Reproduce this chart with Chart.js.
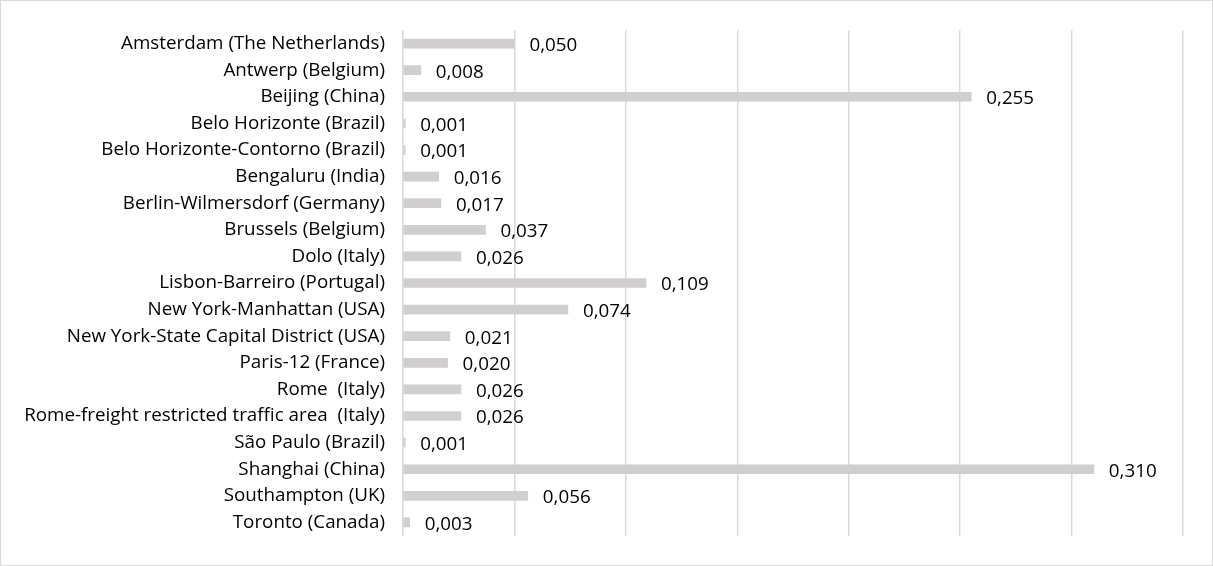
<!DOCTYPE html>
<html>
<head>
<meta charset="utf-8">
<script src="https://cdn.jsdelivr.net/npm/chart.js@4"></script>
<style>
  html, body { margin: 0; padding: 0; background: #fff; }
  .frame {
    width: 1213px; height: 566px; box-sizing: border-box;
    border: 1px solid #d9d9d9; position: relative;
  }
  canvas { display: block; }
</style>
</head>
<body>
<div class="frame"><canvas id="chart" width="1211" height="564"></canvas></div>
<script>
// cities, top to bottom
const cities = [
  'Amsterdam (The Netherlands)',
  'Antwerp (Belgium)',
  'Beijing (China)',
  'Belo Horizonte (Brazil)',
  'Belo Horizonte-Contorno (Brazil)',
  'Bengaluru (India)',
  'Berlin-Wilmersdorf (Germany)',
  'Brussels (Belgium)',
  'Dolo (Italy)',
  'Lisbon-Barreiro (Portugal)',
  'New York-Manhattan (USA)',
  'New York-State Capital District (USA)',
  'Paris-12 (France)',
  'Rome  (Italy)',
  'Rome-freight restricted traffic area  (Italy)',
  'São Paulo (Brazil)',
  'Shanghai (China)',
  'Southampton (UK)',
  'Toronto (Canada)',
];

const values = [
  0.050, 0.008, 0.255, 0.001, 0.001, 0.016, 0.017, 0.037, 0.026, 0.109,
  0.074, 0.021, 0.020, 0.026, 0.026, 0.001, 0.310, 0.056, 0.003,
];

const axisMax = 0.35;
const axisStep = 0.05;

const FONT = '"Open Sans", Lato, sans-serif';
const FONT_SIZE = 18.8;

// data labels to the right of each bar, comma decimals
const valueLabels = {
  id: 'valueLabels',
  afterDatasetsDraw(chart) {
    const { ctx } = chart;
    const meta = chart.getDatasetMeta(0);
    ctx.save();
    ctx.font = FONT_SIZE + 'px ' + FONT;
    ctx.fillStyle = '#000';
    ctx.textAlign = 'left';
    ctx.textBaseline = 'middle';
    meta.data.forEach((bar, i) => {
      const txt = values[i].toFixed(3).replace('.', ',');
      ctx.fillText(txt, bar.x + 15, bar.y + 2);
    });
    ctx.restore();
  }
};

new Chart(document.getElementById('chart'), {
  type: 'bar',
  data: {
    labels: cities,
    datasets: [{
      data: values,
      backgroundColor: '#d0cece',
      borderWidth: 0,
      barThickness: 9,
    }]
  },
  options: {
    indexAxis: 'y',
    responsive: false,
    animation: false,
    layout: { padding: { top: 29, right: 29, bottom: 28, left: 0 } },
    plugins: {
      legend: { display: false },
      tooltip: { enabled: false },
    },
    scales: {
      x: {
        min: 0,
        max: axisMax,
        ticks: { display: false, stepSize: axisStep },
        grid: { color: '#d9d9d9', lineWidth: 1.5, drawTicks: false },
        border: { display: false },
      },
      y: {
        afterFit(scale) { scale.width = 402; },
        ticks: {
          padding: 18,
          autoSkip: false,
          color: '#000',
          font: { family: FONT, size: FONT_SIZE },
        },
        grid: { display: false, drawTicks: false },
        border: { display: false },
      }
    }
  },
  plugins: [valueLabels]
});
</script>
</body>
</html>
